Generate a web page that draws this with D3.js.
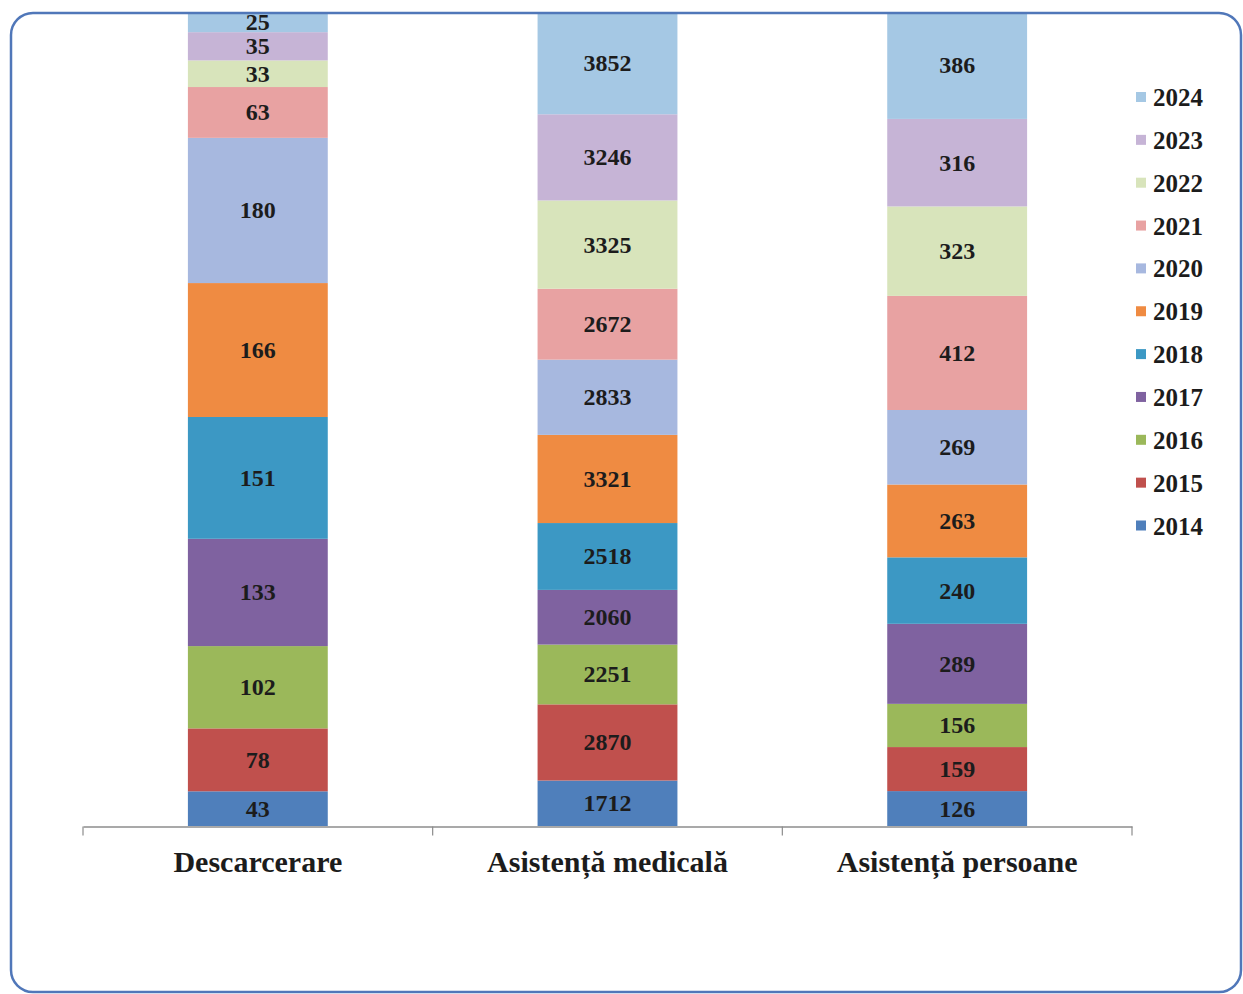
<!DOCTYPE html>
<html lang="ro">
<head>
    <meta charset="UTF-8">
    <title>Interventii 2014-2024</title>
    <style>
        body{ margin:0; background:#fff; }
        svg{ display:block; }
        .val, .lg, .cat{ font-family:"Liberation Serif","Times New Roman",serif; font-weight:bold; fill:#1c1c1c; }
    </style>
    <script src="https://cdn.jsdelivr.net/npm/d3@7"></script>
</head>
<body>
<script>
    const categories=["Descarcerare","Asistență medicală","Asistență persoane"];
    const years=["2014","2015","2016","2017","2018","2019","2020","2021","2022","2023","2024"];
    // values per category, in year order 2014..2024
    const descarcerare=[43,78,102,133,151,166,180,63,33,35,25];
    const asistentaMedicala=[1712,2870,2251,2060,2518,3321,2833,2672,3325,3246,3852];
    const asistentaPersoane=[126,159,156,289,240,263,269,412,323,316,386];
    const colors=["#4f7fbb","#c0504d","#9bb85a","#7f62a0","#3c98c4","#ef8b42",
                  "#a7b8df","#e8a2a2","#d8e4bb","#c6b4d6","#a5c8e4"];

    const width=1243, height=994;
    const svg=d3.select("body").append("svg")
        .attr("width",width).attr("height",height);

    const series=[descarcerare,asistentaMedicala,asistentaPersoane];
    const table=categories.map((c,i)=>{
        const row={cat:c};
        years.forEach((y,j)=>row[y]=series[i][j]);
        return row;
    });

    const stacked=d3.stack().keys(years).offset(d3.stackOffsetExpand)(table);

    const xScale=d3.scaleBand().domain(categories).range([83,1132]);
    const yScale=d3.scaleLinear().domain([0,1]).range([826,12]);
    const color=d3.scaleOrdinal().domain(years).range(colors);
    const barW=xScale.bandwidth()*0.4;

    // bars
    const layers=svg.append("g").selectAll("g")
        .data(stacked).enter().append("g")
        .attr("fill",d=>color(d.key));
    layers.selectAll("rect")
        .data(d=>d).enter().append("rect")
        .attr("x",d=>xScale(d.data.cat)+xScale.bandwidth()/2-barW/2)
        .attr("width",barW)
        .attr("y",d=>yScale(d[1]))
        .attr("height",d=>yScale(d[0])-yScale(d[1]));

    // value labels
    stacked.forEach(layer=>{
        svg.append("g").selectAll("text")
            .data(layer).enter().append("text")
            .attr("class","val")
            .attr("x",d=>xScale(d.data.cat)+xScale.bandwidth()/2)
            .attr("y",d=>(yScale(d[0])+yScale(d[1]))/2+8)
            .attr("text-anchor","middle")
            .style("font-size","24px")
            .text(d=>d.data[layer.key]);
    });

    // x axis
    const xAxis=d3.axisBottom(xScale).tickSize(0).tickPadding(0);
    const gx=svg.append("g").attr("transform","translate(0,826.5)").call(xAxis);
    gx.select(".domain").attr("stroke","#8c8c8c").attr("stroke-width",1.5);
    gx.selectAll(".tick text").attr("class","cat")
        .attr("dy",null).attr("y",45)
        .style("font-size","30px").style("font-family",null);
    gx.selectAll(".bound")
        .data(d3.range(categories.length+1)).enter().append("line")
        .attr("x1",i=>83+i*xScale.step()).attr("x2",i=>83+i*xScale.step())
        .attr("y1",0).attr("y2",9)
        .attr("stroke","#8c8c8c").attr("stroke-width",1.2);

    // legend
    const legY=d3.scalePoint().domain(years.slice().reverse()).range([97.5,526]);
    const legend=svg.append("g").selectAll("g")
        .data(years).enter().append("g")
        .attr("transform",d=>`translate(1136,${legY(d)})`);
    legend.append("rect")
        .attr("x",0).attr("y",-5.5).attr("width",10).attr("height",10)
        .attr("fill",d=>color(d));
    legend.append("text")
        .attr("class","lg")
        .attr("x",17).attr("y",8.5)
        .style("font-size","25px")
        .text(d=>d);

    // chart frame
    svg.append("rect")
        .attr("x",11).attr("y",13)
        .attr("width",1230).attr("height",979)
        .attr("rx",22).attr("ry",22)
        .attr("fill","none")
        .attr("stroke","#5077b9")
        .attr("stroke-width",2.5);
</script>
</body>
</html>
